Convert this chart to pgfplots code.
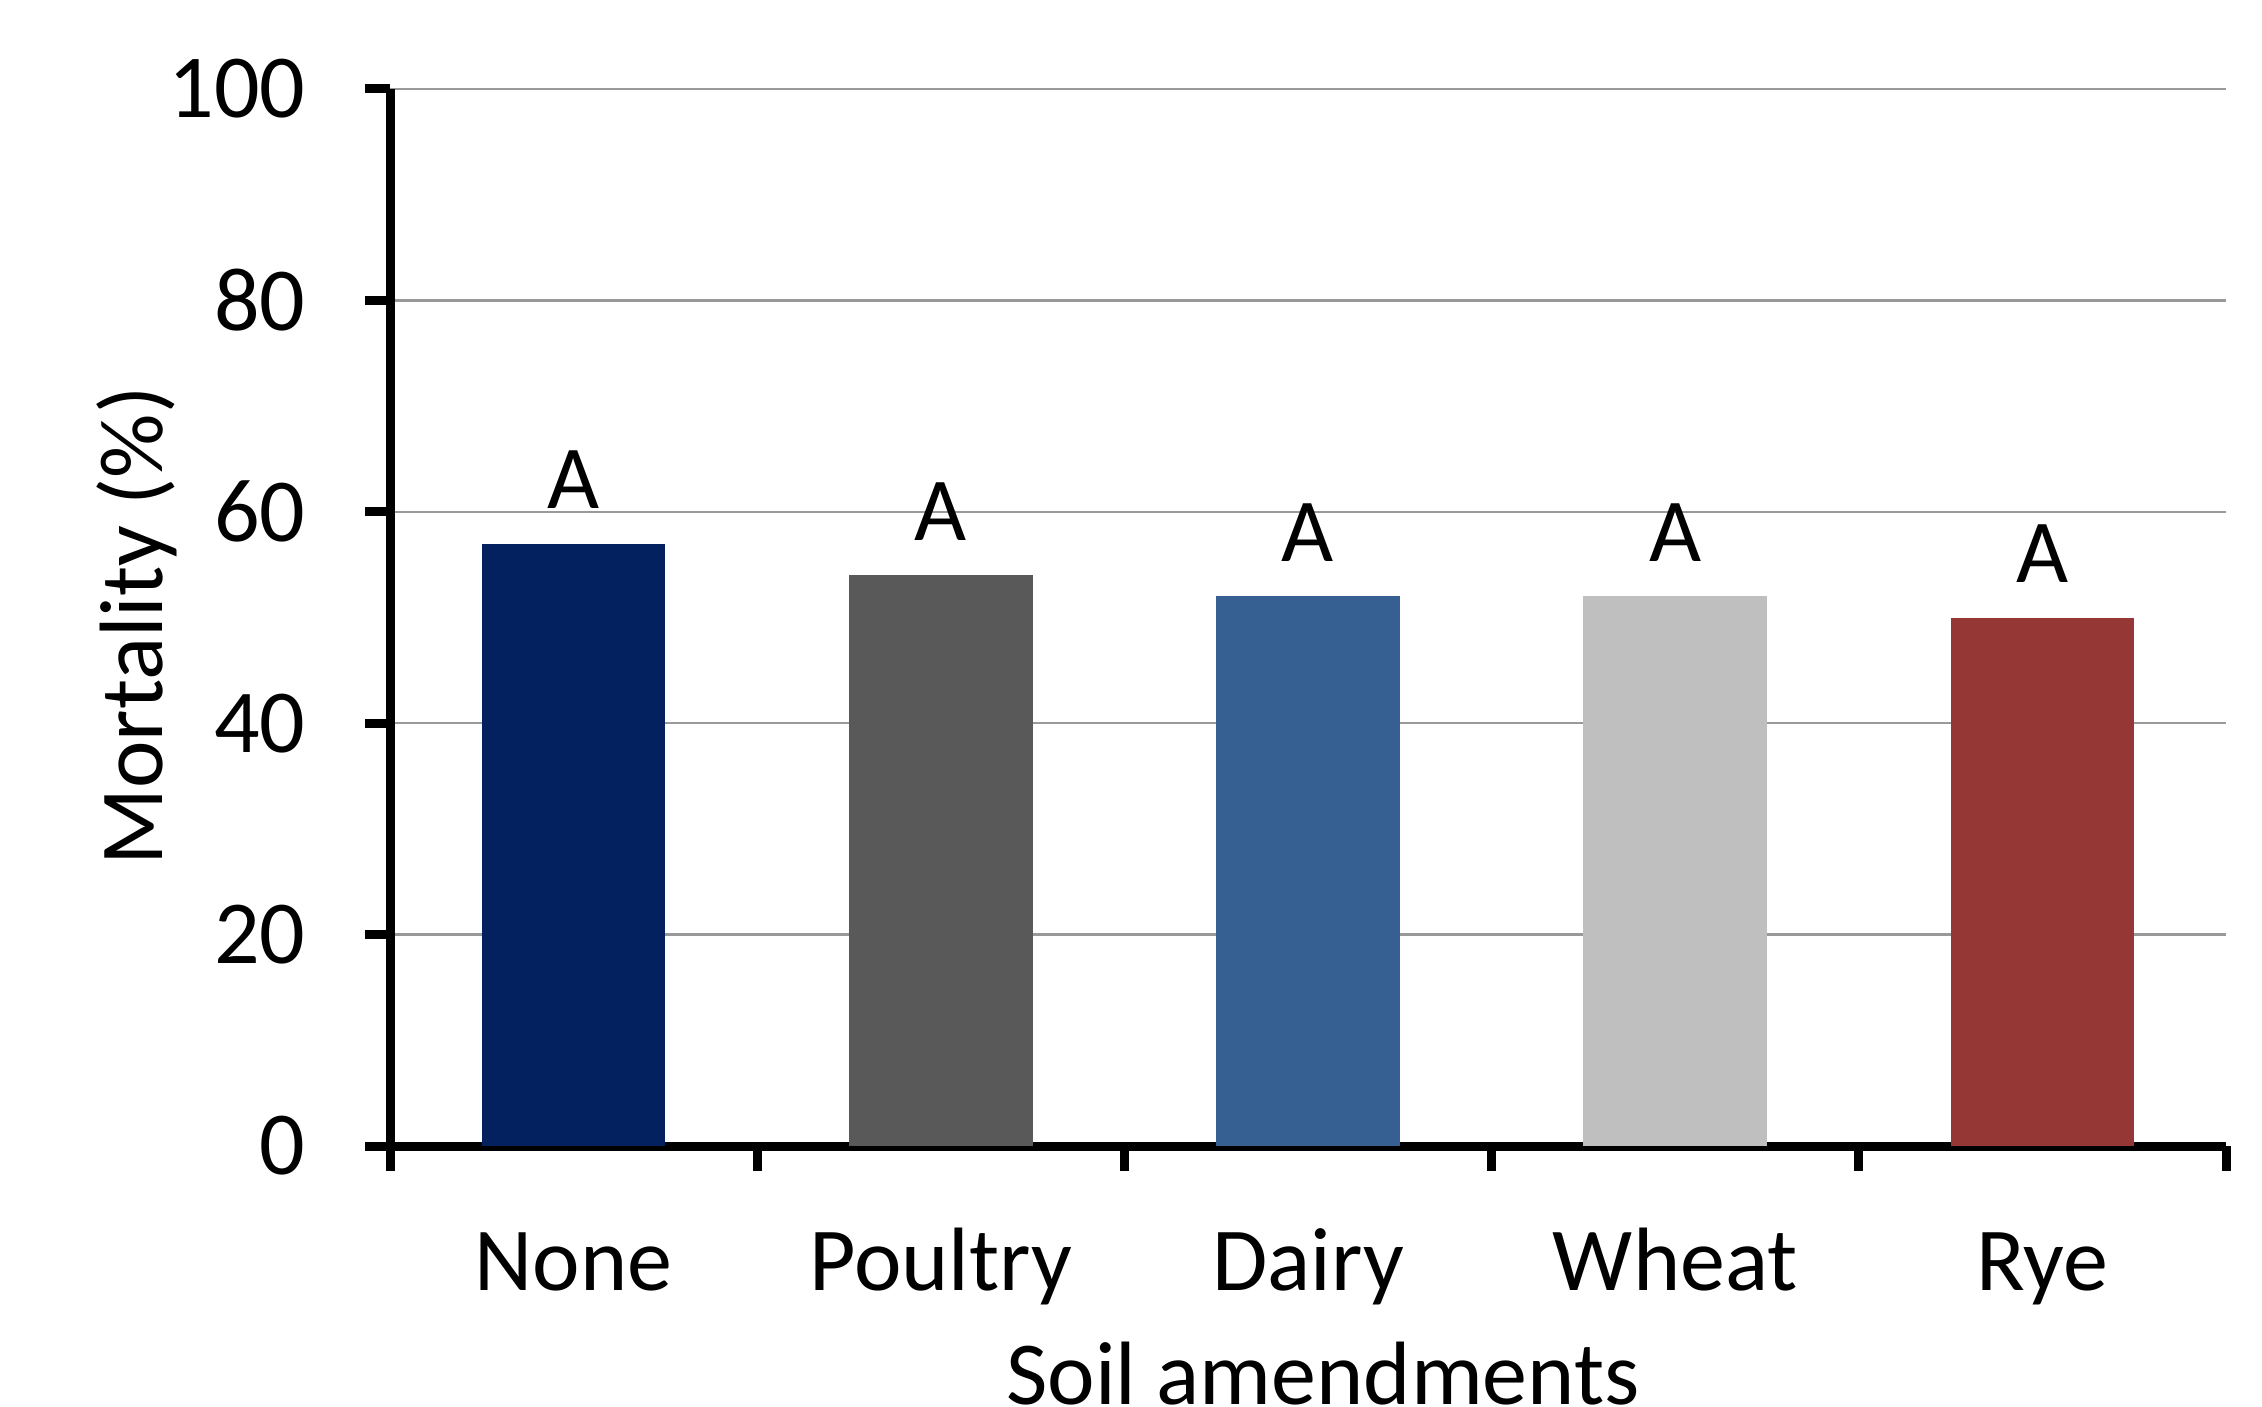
\documentclass[border=0pt]{standalone}
\usepackage{fontspec}
\setmainfont{Carlito}
\usepackage{pgfplots}
\pgfplotsset{compat=1.18}
\definecolor{cNone}{HTML}{03215E}
\definecolor{cPoultry}{HTML}{595959}
\definecolor{cDairy}{HTML}{366092}
\definecolor{cWheat}{HTML}{BFBFBF}
\definecolor{cRye}{HTML}{953735}
\newcommand{\bigf}{\fontsize{18}{21}\selectfont}
\begin{document}
\begin{tikzpicture}
\begin{axis}[name=ax, scale only axis, width=367.2pt, height=211.4pt,
  xmin=-0.5, xmax=4.5, ymin=0, ymax=100,
  ytick={0,20,...,100},
  xtick={-0.5,0.5,...,4.5}, xticklabels={},
  extra x ticks={0,1,2,3,4},
  extra x tick labels={None,Poultry,Dairy,Wheat,Rye},
  extra x tick style={major tick length=0pt, grid=none,
    xticklabel style={anchor=base, yshift=-28.8pt}},
  axis x line*=bottom, axis y line*=left,
  axis line style={line width=1.8pt, black, -},
  tick style={line width=1.8pt, black},
  tick align=outside, major tick length=5pt,
  ymajorgrids, grid style={gray!80, line width=0.5pt},
  tick label style={font=\bigf},
  yticklabel style={xshift=-8.4pt},
  /pgf/number format/assume math mode=true,
  label style={font=\bigf},
  xlabel={Soil amendments}, ylabel={Mortality (\%)},
  xlabel style={at={(axis description cs:0.5,0)}, anchor=base, yshift=-51.6pt, xshift=3pt},
  ylabel style={at={([xshift=-45.4pt]axis description cs:0,0.492)}, anchor=base},
  ybar, bar width=0.5, bar shift=0pt,
  nodes near coords={A},
  every node near coord/.append style={font=\bigf, black, yshift=3.5pt},
  clip=false,
]
\addplot[draw=none, fill=cNone] coordinates {(0,57)};
\addplot[draw=none, fill=cPoultry] coordinates {(1,54)};
\addplot[draw=none, fill=cDairy] coordinates {(2,52)};
\addplot[draw=none, fill=cWheat] coordinates {(3,52)};
\addplot[draw=none, fill=cRye] coordinates {(4,50)};
\end{axis}
\pgfresetboundingbox
\useasboundingbox ([shift={(-78pt,-52pt)}]ax.south west) rectangle ([shift={(7.2pt,17.8pt)}]ax.north east);
\end{tikzpicture}
\end{document}
